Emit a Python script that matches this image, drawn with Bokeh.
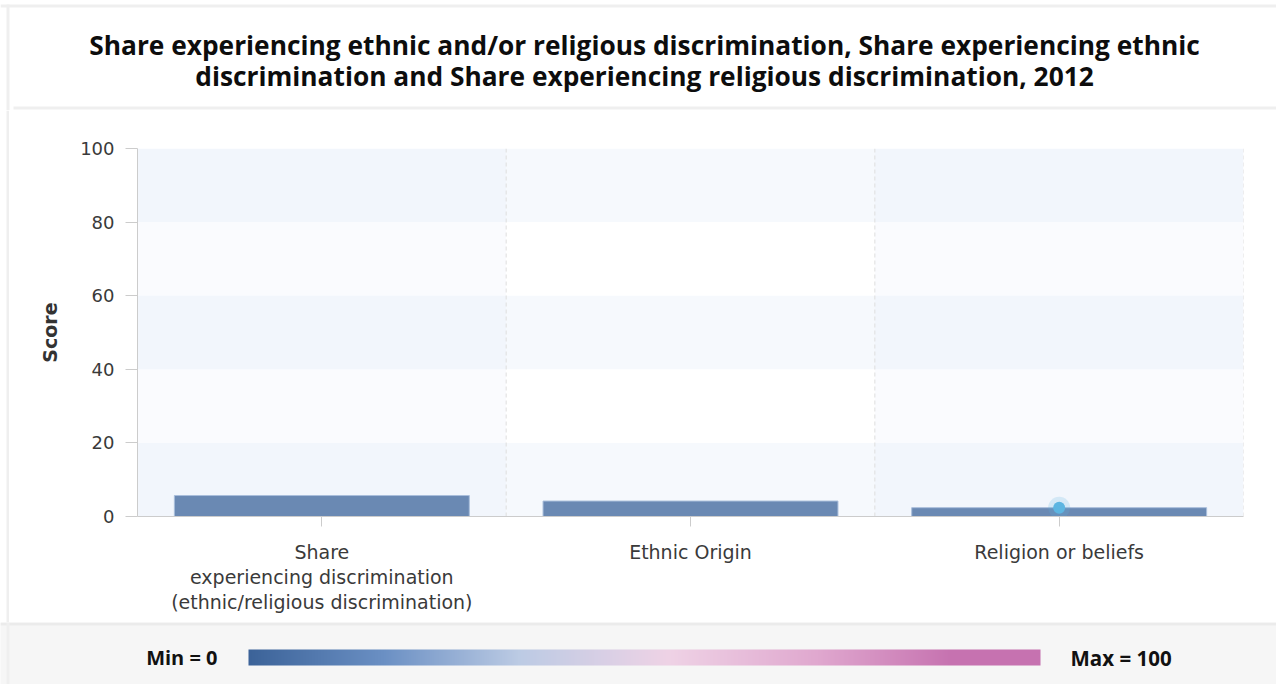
import numpy as np
from bokeh.plotting import figure
from bokeh.layouts import column, row
from bokeh.models import (Range1d, FactorRange, BoxAnnotation, Span, SingleIntervalTicker)
from bokeh.core.properties import value
from bokeh.embed import file_html
from bokeh.resources import INLINE

# ---- data ----
title_lines = [
    "Share experiencing ethnic and/or religious discrimination, Share experiencing ethnic",
    "discrimination and Share experiencing religious discrimination, 2012",
]
categories = [
    "Share experiencing discrimination (ethnic/religious discrimination)",
    "Ethnic Origin",
    "Religion or beliefs",
]
category_labels = [
    "Share\nexperiencing discrimination\n(ethnic/religious discrimination)",
    "Ethnic Origin",
    "Religion or beliefs",
]
scores = [5.7, 4.2, 2.4]
highlight_index = 2
y_ticks = [0, 20, 40, 60, 80, 100]
legend_min_label = "Min = 0"
legend_max_label = "Max = 100"
gradient_stops = [0.0, 0.17, 0.34, 0.53, 0.72, 0.89, 1.0]
gradient_colors = ["#3c6399", "#6b90c4", "#bccbe4", "#efd3e6", "#e0a8cf", "#c672b0", "#c672b0"]

W, H = 1276, 684
TITLE_H = 110
LEGEND_H = 62
MAIN_H = H - TITLE_H - LEGEND_H
STRIP_W = 9
FRAME_GREY = "#efefef"

def blank(width, height, xr, yr, bg="white"):
    f = figure(width=width, height=height, x_range=xr, y_range=yr,
               output_backend="svg", toolbar_location=None,
               min_border=0, min_border_left=0, min_border_right=0,
               min_border_top=0, min_border_bottom=0)
    f.axis.visible = False
    f.grid.visible = False
    f.outline_line_color = None
    f.background_fill_color = bg
    f.border_fill_color = bg
    f.frame_align = False
    return f

# ---- title strip ----
pt = blank(W, TITLE_H, Range1d(0, W), Range1d(TITLE_H, 0))
pt.quad(left=[0], right=[W], top=[4], bottom=[7], fill_color=FRAME_GREY, line_color=None)
pt.quad(left=[6], right=[9], top=[4], bottom=[TITLE_H], fill_color=FRAME_GREY, line_color=None)
pt.quad(left=[13], right=[W], top=[106], bottom=[109], fill_color=FRAME_GREY, line_color=None)
pt.text(x=[644, 644], y=[44, 75], text=title_lines,
        text_font=value("Open Sans"), text_font_style="bold", text_font_size="26.3px",
        text_color="#0d0d0d", text_align="center", text_baseline="middle")

# ---- left strip beside main plot ----
ps = blank(STRIP_W, MAIN_H, Range1d(0, STRIP_W), Range1d(MAIN_H, 0))
ps.quad(left=[6], right=[9], top=[0], bottom=[MAIN_H], fill_color=FRAME_GREY, line_color=None)

# ---- main chart ----
p = figure(width=W - STRIP_W, height=MAIN_H,
           x_range=FactorRange(*category_labels, range_padding=0),
           y_range=Range1d(0, 100),
           output_backend="svg", toolbar_location=None,
           min_border_left=137 - STRIP_W, min_border_right=33,
           min_border_top=38, min_border_bottom=106)
p.frame_align = False
p.outline_line_color = None
p.background_fill_color = "white"
p.border_fill_color = "white"
p.grid.visible = False

for lo in y_ticks[:-1:2]:
    p.add_layout(BoxAnnotation(bottom=lo, top=lo + 20, fill_color="#dde6f8",
                               fill_alpha=0.26, line_color=None, level="underlay"))
for i in range(0, len(categories), 2):
    p.add_layout(BoxAnnotation(left=i, right=i + 1, fill_color="#dde6f8",
                               fill_alpha=0.16, line_color=None, level="underlay"))
for i in range(1, len(categories) + 1):
    p.add_layout(Span(location=i, dimension="height", line_color="#dedede",
                      line_width=1, line_dash="4 3", level="underlay"))

p.vbar(x=category_labels, top=scores, width=0.8, bottom=0,
       fill_color="#6a89b3", line_color="#a9bedb", line_width=1)
hx = [category_labels[highlight_index]]
hy = [scores[highlight_index]]
p.scatter(x=hx, y=hy, size=22, fill_color="#5cb5e1", fill_alpha=0.2, line_color=None)
p.scatter(x=hx, y=hy, size=12, fill_color="#5cb5e1", line_color=None)

yax = p.yaxis[0]
yax.ticker = SingleIntervalTicker(interval=20, num_minor_ticks=0)
yax.axis_line_color = "#cccccc"
yax.major_tick_line_color = "#cccccc"
yax.major_tick_out = 12
yax.major_tick_in = 0
yax.minor_tick_line_color = None
yax.major_label_standoff = 11
yax.major_label_text_font = "DejaVu Sans"
yax.major_label_text_font_size = "18px"
yax.major_label_text_color = "#3a3a3a"
yax.axis_label = "Score"
yax.axis_label_text_font = "DejaVu Sans"
yax.axis_label_text_font_style = "bold"
yax.axis_label_text_font_size = "19px"
yax.axis_label_text_color = "#333333"
yax.axis_label_standoff = 16

xax = p.xaxis[0]
xax.axis_line_color = "#cccccc"
xax.major_tick_line_color = "#cccccc"
xax.major_tick_out = 10
xax.major_tick_in = 0
xax.minor_tick_line_color = None
xax.major_label_standoff = 14
xax.major_label_text_font = "DejaVu Sans"
xax.major_label_text_font_size = "19px"
xax.major_label_text_color = "#3a3a3a"
xax.major_label_text_line_height = 1.15

# ---- colour legend ----
pl = blank(W, LEGEND_H, Range1d(0, W), Range1d(LEGEND_H, 0), bg="#f6f6f6")
pl.quad(left=[0], right=[W], top=[0], bottom=[3], fill_color="#ebebeb", line_color=None)
pl.quad(left=[6], right=[9], top=[0], bottom=[LEGEND_H], fill_color=FRAME_GREY, line_color=None)

def hex_rgb(h):
    return [int(h[i:i + 2], 16) for i in (1, 3, 5)]

gx0, gx1, gy0, gy1 = 248, 1040, 27, 43
n = gx1 - gx0
t = np.linspace(0, 1, n)
rgb = np.array([hex_rgb(c) for c in gradient_colors], dtype=float)
chan = [np.interp(t, gradient_stops, rgb[:, k]) for k in range(3)]
img = np.empty((1, n), dtype=np.uint32)
view = img.view(dtype=np.uint8).reshape((1, n, 4))
view[0, :, 0] = chan[0].astype(np.uint8)
view[0, :, 1] = chan[1].astype(np.uint8)
view[0, :, 2] = chan[2].astype(np.uint8)
view[0, :, 3] = 255
pl.image_rgba(image=[img], x=gx0, y=gy0, dw=n, dh=gy1 - gy0)
pl.text(x=[217], y=[35], text=[legend_min_label], text_font=value("Open Sans"),
        text_font_style="bold", text_font_size="20px", text_color="#111111",
        text_align="right", text_baseline="middle")
pl.text(x=[1070], y=[35], text=[legend_max_label], text_font=value("Open Sans"),
        text_font_style="bold", text_font_size="20.5px", text_color="#111111",
        text_align="left", text_baseline="middle")

layout = column(pt, row(ps, p), pl)
open("out.html", "w").write(file_html(layout, INLINE))
